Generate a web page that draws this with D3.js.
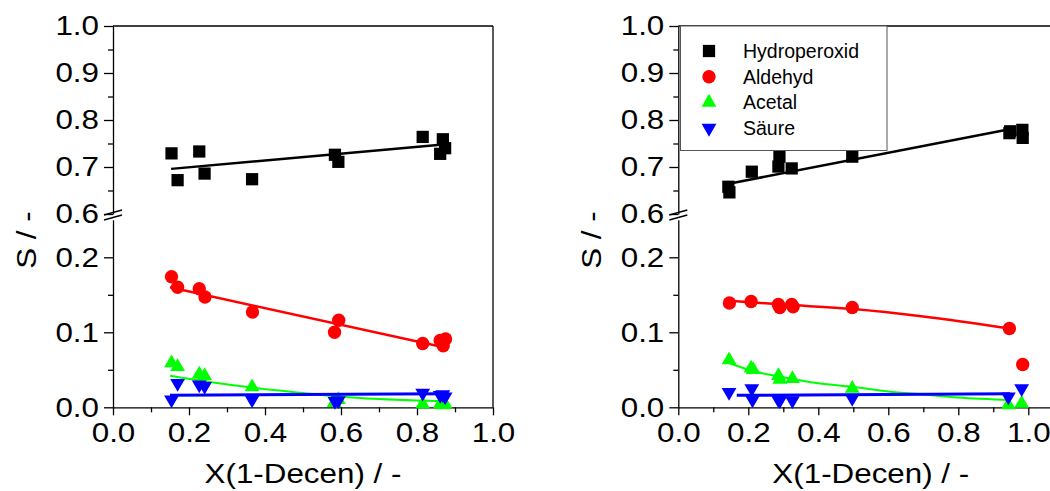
<!DOCTYPE html>
<html>
<head>
<meta charset="utf-8">
<script src="https://cdn.jsdelivr.net/npm/d3@7"></script>
<style>
  html, body { margin: 0; padding: 0; background: #fff; }
  svg { display: block; }
  text { font-family: "Liberation Sans", Arial, sans-serif; fill: #000; }
</style>
</head>
<body>
<svg id="chart" width="1050" height="491"></svg>
<script>
// ---- Panel A (left) ----
const xA_hp   = [0.154, 0.170, 0.227, 0.241, 0.366, 0.584, 0.593, 0.815, 0.861, 0.868, 0.874];
const sA_hp   = [0.729, 0.672, 0.733, 0.686, 0.674, 0.726, 0.711, 0.764, 0.728, 0.759, 0.740];
const xA_ald  = [0.154, 0.170, 0.227, 0.242, 0.367, 0.583, 0.594, 0.815, 0.861, 0.869, 0.875];
const sA_ald  = [0.174, 0.160, 0.158, 0.147, 0.127, 0.100, 0.116, 0.085, 0.089, 0.082, 0.091];
const xA_ace  = [0.154, 0.170, 0.227, 0.241, 0.366, 0.582, 0.593, 0.815, 0.861, 0.868, 0.874];
const sA_ace  = [0.059, 0.054, 0.044, 0.042, 0.027, 0.006, 0.010, 0.004, 0.004, 0.003, 0.004];
const xA_acid = [0.154, 0.170, 0.227, 0.241, 0.366, 0.584, 0.593, 0.815, 0.861, 0.868, 0.874];
const sA_acid = [0.010, 0.032, 0.030, 0.028, 0.010, 0.008, 0.009, 0.019, 0.016, 0.017, 0.014];

// fitted trend lines, panel A
const fitA_hp_x   = [0.153, 0.869];
const fitA_hp_s   = [0.696, 0.748];
const fitA_ald_x  = [0.150, 0.870];
const fitA_ald_s  = [0.160, 0.080];
const fitA_ace_x  = [0.150, 0.250, 0.370, 0.500, 0.600, 0.700, 0.800, 0.870];
const fitA_ace_s  = [0.042, 0.034, 0.026, 0.019, 0.014, 0.011, 0.009, 0.008];
const fitA_acid_x = [0.150, 0.870];
const fitA_acid_s = [0.016, 0.018];

// ---- Panel B (right) ----
const xB_hp   = [0.143, 0.146, 0.210, 0.286, 0.289, 0.324, 0.497, 0.946, 0.948, 0.983, 0.984];
const sB_hp   = [0.658, 0.646, 0.690, 0.701, 0.722, 0.697, 0.722, 0.772, 0.776, 0.779, 0.762];
const xB_ald  = [0.146, 0.208, 0.286, 0.290, 0.324, 0.328, 0.497, 0.946, 0.984];
const sB_ald  = [0.139, 0.141, 0.137, 0.133, 0.137, 0.134, 0.133, 0.105, 0.057];
const xB_ace  = [0.145, 0.208, 0.214, 0.286, 0.290, 0.326, 0.497, 0.943, 0.981];
const sB_ace  = [0.063, 0.052, 0.050, 0.042, 0.037, 0.038, 0.025, 0.003, 0.005];
const xB_acid = [0.145, 0.210, 0.212, 0.286, 0.290, 0.326, 0.497, 0.943, 0.981];
const sB_acid = [0.020, 0.025, 0.010, 0.010, 0.009, 0.009, 0.012, 0.014, 0.025];

// fitted trend lines, panel B
const fitB_hp_x   = [0.148, 0.950];
const fitB_hp_s   = [0.665, 0.781];
const fitB_ald_x  = [0.146, 0.300, 0.500, 0.700, 0.946];
const fitB_ald_s  = [0.142, 0.137, 0.131, 0.121, 0.105];
const fitB_ace_x  = [0.145, 0.200, 0.300, 0.400, 0.500, 0.600, 0.700, 0.800, 0.950];
const fitB_ace_s  = [0.059, 0.050, 0.040, 0.032, 0.027, 0.021, 0.017, 0.013, 0.0095];
const fitB_acid_x = [0.167, 0.948];
const fitB_acid_s = [0.016, 0.018];

// ---- axis ticks and labels ----
const xMajor = [0, 0.2, 0.4, 0.6, 0.8, 1.0];
const xMinor = [0.1, 0.3, 0.5, 0.7, 0.9];
const yUpperMajor = [0.6, 0.7, 0.8, 0.9, 1.0];
const yUpperMinor = [0.65, 0.75, 0.85, 0.95];
const yLowerMajor = [0.0, 0.1, 0.2];
const yLowerMinor = [0.05, 0.15];
const xTitle = "X(1-Decen) / -";
const yTitle = "S / -";
const seriesNames = ["Hydroperoxid", "Aldehyd", "Acetal", "Säure"];
const seriesColors = ["#000000", "#ff0000", "#00ff00", "#0000ff"];

const svg = d3.select("#chart");
const FS = 28;        // tick / title font size
const SX = 1.12;      // horizontal text widening
const fmt = d3.format(".1f");

const symSquare = d3.symbol().type(d3.symbolSquare).size(150);
const symCircle = d3.symbol().type(d3.symbolCircle).size(140);
const symTri = d3.symbol().type(d3.symbolTriangle).size(95);

// widen a tick label horizontally while keeping its anchor point
function widen(sel) {
  sel.each(function () {
    const t = d3.select(this);
    const x0 = +t.attr("x") || 0;
    t.attr("x", x0 / SX).attr("transform", `scale(${SX},1)`);
  });
}

function panel(opt) {
  const g = svg.append("g");
  const x = d3.scaleLinear().domain([0, opt.xMax]).range([opt.left, opt.right]);
  const yU = d3.scaleLinear().domain([0.6, 1.0]).range([214, 26]);
  const yL = d3.scaleLinear().domain([0, 0.25]).range([407.3, 219.8]);

  // frame: top and right lines
  g.append("line").attr("x1", x(0)).attr("x2", x(opt.xMax)).attr("y1", yU(1)).attr("y2", yU(1))
    .attr("stroke", "#000").attr("stroke-width", 1.3);
  g.append("line").attr("x1", x(opt.xMax)).attr("x2", x(opt.xMax)).attr("y1", yU(1)).attr("y2", yL(0))
    .attr("stroke", "#000").attr("stroke-width", 1.3);

  // bottom axis
  const gx = g.append("g").attr("transform", `translate(0,${yL(0)})`);
  gx.call(d3.axisBottom(x).tickValues(xMajor).tickFormat(fmt).tickSize(8).tickSizeOuter(0).tickPadding(7));
  gx.append("g").call(d3.axisBottom(x).tickValues(xMinor).tickFormat("").tickSize(5).tickSizeOuter(0))
    .select(".domain").remove();

  // left axis, upper segment
  const gyU = g.append("g").attr("transform", `translate(${x(0)},0)`);
  gyU.call(d3.axisLeft(yU).tickValues(yUpperMajor).tickFormat(fmt).tickSize(9).tickSizeOuter(0).tickPadding(5));
  gyU.append("g").call(d3.axisLeft(yU).tickValues(yUpperMinor).tickFormat("").tickSize(5).tickSizeOuter(0))
    .select(".domain").remove();

  // left axis, lower segment
  const gyL = g.append("g").attr("transform", `translate(${x(0)},0)`);
  gyL.call(d3.axisLeft(yL).tickValues(yLowerMajor).tickFormat(fmt).tickSize(9).tickSizeOuter(0).tickPadding(5));
  gyL.append("g").call(d3.axisLeft(yL).tickValues(yLowerMinor).tickFormat("").tickSize(5).tickSizeOuter(0))
    .select(".domain").remove();

  g.selectAll(".domain").attr("stroke", "#000").attr("stroke-width", 1.3);
  g.selectAll(".tick line").attr("stroke", "#000").attr("stroke-width", 1.3);
  g.selectAll(".tick text").attr("font-size", FS).attr("font-family", "Liberation Sans, Arial, sans-serif").attr("fill", "#000");
  widen(gyU.selectAll(".tick text"));
  widen(gyL.selectAll(".tick text"));
  gx.selectAll(".tick text").attr("transform", `scale(${SX},1)`);

  // axis break marks
  const bx = x(0);
  [0, 5].forEach(off => {
    g.append("line").attr("x1", bx - 9).attr("y1", 215 + off).attr("x2", bx + 9).attr("y2", 210 + off)
      .attr("stroke", "#000").attr("stroke-width", 1.3);
  });

  // axis titles
  g.append("text").attr("transform", `translate(${(x(0) + x(opt.xMax)) / 2},483) scale(${SX},1)`)
    .attr("text-anchor", "middle").attr("font-size", FS).text(xTitle);
  g.append("text").attr("transform", `translate(${opt.left - 77},240) rotate(-90) scale(${SX},1)`)
    .attr("text-anchor", "middle").attr("font-size", FS).text(yTitle);

  // data series: markers, then their trend line
  const line = d3.line().curve(d3.curveMonotoneX);
  const series = [
    { xs: opt.d.hpx, ys: opt.d.hps, fx: opt.d.fhpx, fy: opt.d.fhps, y: yU, c: seriesColors[0], sym: symSquare, rot: 0, w: 2.5 },
    { xs: opt.d.aldx, ys: opt.d.alds, fx: opt.d.faldx, fy: opt.d.falds, y: yL, c: seriesColors[1], sym: symCircle, rot: 0, w: 2.5 },
    { xs: opt.d.acex, ys: opt.d.aces, fx: opt.d.facex, fy: opt.d.faces, y: yL, c: seriesColors[2], sym: symTri, rot: 0, w: 2 },
    { xs: opt.d.acidx, ys: opt.d.acids, fx: opt.d.facidx, fy: opt.d.facids, y: yL, c: seriesColors[3], sym: symTri, rot: 180, w: 3 }
  ];
  series.forEach(s => {
    g.append("g").selectAll("path").data(s.xs.map((v, i) => [v, s.ys[i]])).join("path")
      .attr("d", s.sym)
      .attr("transform", d => `translate(${x(d[0])},${s.y(d[1])}) rotate(${s.rot})`)
      .attr("fill", s.c);
    g.append("path")
      .attr("d", line(s.fx.map((v, i) => [x(v), s.y(s.fy[i])])))
      .attr("fill", "none").attr("stroke", s.c).attr("stroke-width", s.w);
  });
  return { x, yU, yL };
}

panel({
  left: 113, right: 493, xMax: 1.0,
  d: {
    hpx: xA_hp, hps: sA_hp, fhpx: fitA_hp_x, fhps: fitA_hp_s,
    aldx: xA_ald, alds: sA_ald, faldx: fitA_ald_x, falds: fitA_ald_s,
    acex: xA_ace, aces: sA_ace, facex: fitA_ace_x, faces: fitA_ace_s,
    acidx: xA_acid, acids: sA_acid, facidx: fitA_acid_x, facids: fitA_acid_s
  }
});

panel({
  left: 678.3, right: 1063.3, xMax: 1.1,
  d: {
    hpx: xB_hp, hps: sB_hp, fhpx: fitB_hp_x, fhps: fitB_hp_s,
    aldx: xB_ald, alds: sB_ald, faldx: fitB_ald_x, falds: fitB_ald_s,
    acex: xB_ace, aces: sB_ace, facex: fitB_ace_x, faces: fitB_ace_s,
    acidx: xB_acid, acids: sB_acid, facidx: fitB_acid_x, facids: fitB_acid_s
  }
});

// legend (right panel)
const lg = svg.append("g");
lg.append("rect").attr("x", 680.5).attr("y", 26).attr("width", 206.5).attr("height", 124.5)
  .attr("fill", "#fff").attr("stroke", "#555").attr("stroke-width", 1);
const legSyms = [symSquare, symCircle, symTri, symTri];
const legRot = [0, 0, 0, 180];
seriesNames.forEach((name, i) => {
  const cy = 51 + i * 25.7;
  lg.append("path").attr("d", legSyms[i]).attr("fill", seriesColors[i])
    .attr("transform", `translate(709,${cy}) rotate(${legRot[i]})`);
  lg.append("text").attr("x", 743).attr("y", cy + 7).attr("font-size", 19.5).text(name);
});
</script>
</body>
</html>
